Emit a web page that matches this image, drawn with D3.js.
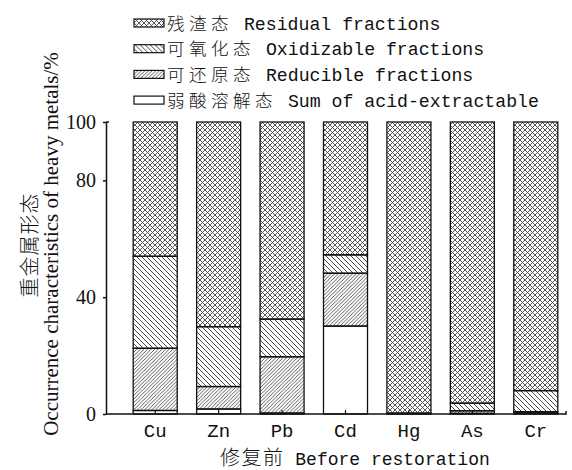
<!DOCTYPE html>
<html lang="zh">
<head>
<meta charset="UTF-8">
<title>重金属形态</title>
<script src="https://cdn.jsdelivr.net/npm/d3@7"></script>
<style>
  body { margin: 0; background: #fff; }
  .cjk { font-family: "Noto Sans CJK SC", sans-serif; font-weight: 300; }
  .mono { font-family: "Liberation Mono", monospace; }
  .serif { font-family: "Liberation Serif", serif; }
</style>
</head>
<body>
<div id="chart"></div>
<script>
// metals on x axis
var metals = ["Cu", "Zn", "Pb", "Cd", "Hg", "As", "Cr"];
// fractions (%), bottom to top
var acidVals = [1.2, 1.7, 0.3, 30.1, 0.0, 0.2, 0.3];
var reducibleVals = [21.3, 7.7, 19.3, 18.1, 0.1, 0.9, 0.5];
var oxidizableVals = [31.5, 20.5, 12.9, 6.3, 0.2, 2.6, 7.2];
var residualVals = [46.0, 70.1, 67.5, 45.5, 99.7, 96.3, 92.0];
var yTicks = [0, 40, 80, 100];

var legendNames = [
  ["残渣态", " Residual fractions"],
  ["可氧化态", " Oxidizable fractions"],
  ["可还原态", " Reducible fractions"],
  ["弱酸溶解态", " Sum of acid-extractable"]
];

var W = 572, H = 470;
var plotLeft = 106, plotRight = 566, plotTop = 122, plotBottom = 414;

var svg = d3.select("#chart").append("svg").attr("width", W).attr("height", H);

// hatch patterns
var defs = svg.append("defs");
var pRes = defs.append("pattern").attr("id", "pRes").attr("patternUnits", "userSpaceOnUse")
  .attr("width", 5).attr("height", 5);
pRes.append("path").attr("d", "M0,0L5,5M5,0L0,5").attr("stroke", "#444").attr("stroke-width", 0.9);
var pOx = defs.append("pattern").attr("id", "pOx").attr("patternUnits", "userSpaceOnUse")
  .attr("width", 5).attr("height", 5);
pOx.append("path").attr("d", "M0,0L5,5M-1,4L1,6M4,-1L6,1").attr("stroke", "#333").attr("stroke-width", 0.9);
var pRed = defs.append("pattern").attr("id", "pRed").attr("patternUnits", "userSpaceOnUse")
  .attr("width", 3.6).attr("height", 3.6);
pRed.append("path").attr("d", "M0,3.6L3.6,0M-1,1L1,-1M2.6,4.6L4.6,2.6").attr("stroke", "#333").attr("stroke-width", 0.8);

var fills = ["#fff", "url(#pRed)", "url(#pOx)", "url(#pRes)"];

var x = d3.scaleBand().domain(metals).range([plotLeft + 17.5, plotRight + 1.5])
  .paddingInner(0.306).paddingOuter(0.153);
var y = d3.scaleLinear().domain([0, 100]).range([plotBottom, plotTop]);

// stacked bars
var table = metals.map(function(m, i) {
  return { metal: m, acid: acidVals[i], red: reducibleVals[i], ox: oxidizableVals[i], res: residualVals[i] };
});
var stack = d3.stack().keys(["acid", "red", "ox", "res"])(table);

stack.forEach(function(layer, k) {
  svg.append("g").selectAll("rect").data(layer).enter().append("rect")
    .attr("x", function(d) { return x(d.data.metal); })
    .attr("y", function(d) { return y(Math.min(d[1], 100)); })
    .attr("width", x.bandwidth())
    .attr("height", function(d) { return Math.max(0, y(d[0]) - y(Math.min(d[1], 100))); })
    .attr("fill", fills[k])
    .attr("stroke", "#111")
    .attr("stroke-width", 1.3);
});

// x axis (ticks inward)
var xAxis = svg.append("g").attr("transform", "translate(0," + plotBottom + ")")
  .call(d3.axisBottom(x).tickSize(-4).tickSizeOuter(0).tickFormat(""));
xAxis.select(".domain").remove();
xAxis.selectAll("line").attr("stroke", "#111").attr("stroke-width", 1.2);
svg.append("path")
  .attr("d", d3.line()([[plotLeft, y(0)], [plotRight, y(0)], [plotRight, y(0) - 3]]))
  .attr("fill", "none").attr("stroke", "#111").attr("stroke-width", 1.5);

svg.append("g").selectAll("text").data(metals).enter().append("text")
  .attr("class", "mono")
  .attr("x", function(d) { return x(d) + x.bandwidth() / 2; })
  .attr("y", plotBottom + 23)
  .attr("text-anchor", "middle")
  .attr("font-size", 19)
  .attr("fill", "#111")
  .text(function(d) { return d; });

// y axis
var yAxis = svg.append("g").attr("transform", "translate(" + plotLeft + ",0)")
  .call(d3.axisLeft(y).tickValues(yTicks).tickSize(3).tickSizeOuter(0).tickPadding(7));
yAxis.select(".domain").attr("stroke", "#111").attr("stroke-width", 1.5);
yAxis.selectAll("line").attr("stroke", "#111").attr("stroke-width", 1.5);
yAxis.selectAll("text").attr("class", "serif").attr("font-size", 20).attr("fill", "#111");
svg.append("path")
  .attr("d", d3.line()([[plotLeft, y(100)], [plotLeft + 3, y(100)]]))
  .attr("stroke", "#111").attr("stroke-width", 1.5);

// y titles
svg.append("text").attr("class", "cjk")
  .attr("transform", "translate(37,245) rotate(-90)")
  .attr("text-anchor", "middle").attr("font-size", 20).attr("letter-spacing", 1).attr("fill", "#111")
  .text("重金属形态");
svg.append("text").attr("class", "serif")
  .attr("transform", "translate(58,244) rotate(-90)")
  .attr("text-anchor", "middle").attr("font-size", 21).attr("fill", "#111")
  .text("Occurrence characteristics of heavy metals/%");

// x title
var xt = svg.append("text").attr("x", 220).attr("y", 465).attr("fill", "#111");
xt.append("tspan").attr("class", "cjk").attr("font-size", 20).attr("letter-spacing", 1.5).text("修复前");
xt.append("tspan").attr("class", "mono").attr("font-size", 18)
  .style("white-space", "pre").text(" Before restoration");

// legend (top to bottom: residual, oxidizable, reducible, acid)
var legFills = [fills[3], fills[2], fills[1], fills[0]];
var leg = svg.append("g").selectAll("g").data(legendNames).enter().append("g")
  .attr("transform", function(d, i) { return "translate(134," + (23 + i * 25.7) + ")"; });
leg.append("rect").attr("x", 0).attr("y", -4).attr("width", 30).attr("height", 8)
  .attr("fill", function(d, i) { return legFills[i]; })
  .attr("stroke", "#111").attr("stroke-width", 1.2);
var lt = leg.append("text").attr("x", 33).attr("y", 6.5).attr("fill", "#111");
lt.append("tspan").attr("class", "cjk").attr("font-size", 17.6).attr("letter-spacing", 4.4)
  .text(function(d) { return d[0]; });
lt.append("tspan").attr("class", "mono").attr("font-size", 18.2)
  .style("white-space", "pre").text(function(d) { return d[1]; });
</script>
</body>
</html>
